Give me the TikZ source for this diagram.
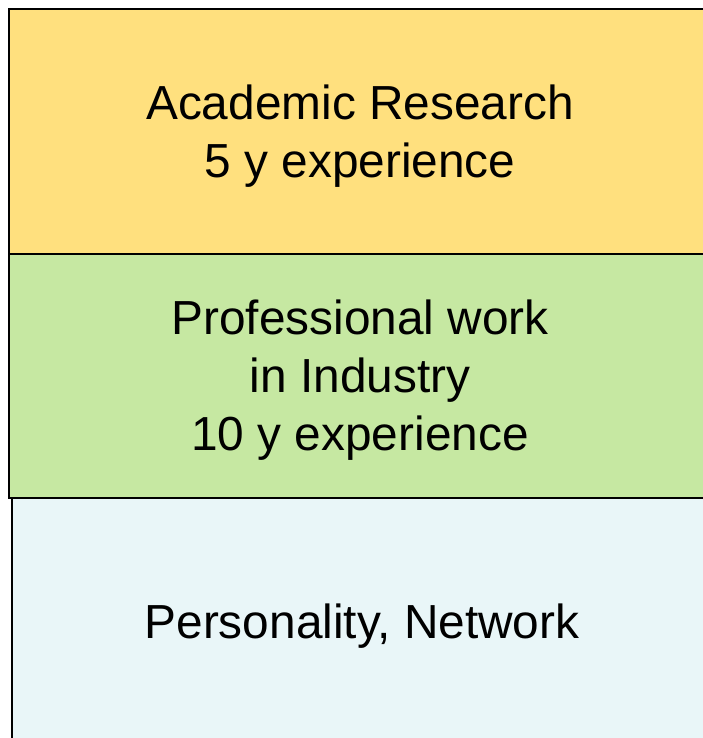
\documentclass[tikz,border=0pt]{standalone}
\usepackage{fontspec}
\setmainfont{Liberation Sans}
\usepackage{tikz}

\definecolor{researchyellow}{HTML}{FFE07E}
\definecolor{industrygreen}{HTML}{C6E8A2}
\definecolor{personalblue}{HTML}{E9F6F8}

\begin{document}
\begin{tikzpicture}[x=1pt,y=-1pt,
    layer/.style={draw=black, line width=2pt},
    layertext/.style={align=center, font=\fontsize{47.8}{58}\selectfont}]
        % Rahmen
        \useasboundingbox (0,0) rectangle (702,738);

        % Schichten
        \draw[layer, fill=personalblue] (11.5,498) rectangle (800,800);
        \draw[layer, fill=industrygreen] (9,253.5) rectangle (800,498);
        \draw[layer, fill=researchyellow] (9,9) rectangle (800,253.5);

        % Beschriftungen
        \node[layertext] (research) at (360,136) {Academic Research\\5 y experience};
        \node[layertext] (industry) at (360,380) {Professional work\\in Industry\\10 y experience};
        \node[layertext] (personality) at (362,626) {Personality, Network};
\end{tikzpicture}
\end{document}
